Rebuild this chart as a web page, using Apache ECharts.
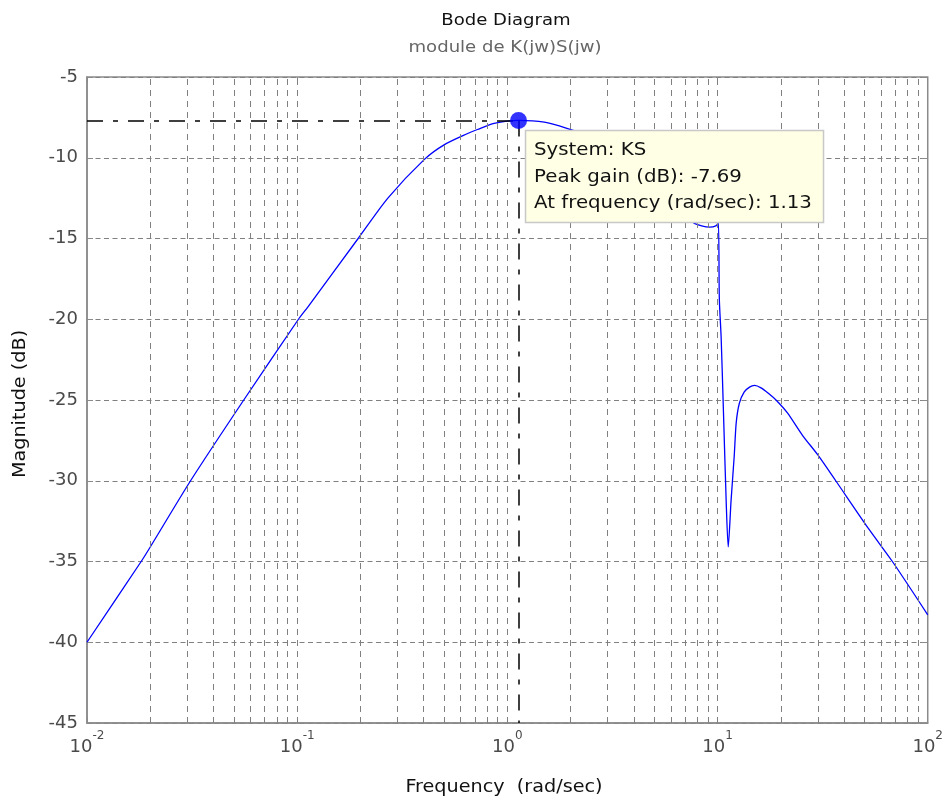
<!DOCTYPE html>
<html><head><meta charset="utf-8">
<script src="https://cdn.jsdelivr.net/npm/echarts@6/dist/echarts.min.js"></script>
<style>html,body{margin:0;padding:0;background:#fff;overflow:hidden}#c{width:946px;height:801px}</style>
</head><body><div id="c"></div>
<script>
// ---- data ----
const freq = [0.01, 0.0181, 0.02, 0.0311, 0.0557, 0.1014, 0.113, 0.195, 0.27, 0.403, 0.5, 0.647, 0.72, 0.865, 1.13, 1.5, 1.92,
  2.5, 3, 4, 5, 6, 7, 7.76, 9.14, 9.87, 10.09, 10.2, 10.4, 10.65, 11.0, 11.24, 11.6, 12.0, 12.27, 12.7, 13.4, 14.2, 15.0,
  16.1, 17.5, 18.97, 21.5, 25.4, 30, 36.5, 52.5, 67.9, 100];
const magDb = [-40, -35, -34.1, -30, -25, -20, -19.2, -15, -12.5, -10.1, -9.2, -8.5, -8.25, -7.87, -7.69, -7.8, -8.18,
  -8.7, -9.2, -10.3, -11.4, -12.5, -13.5, -14.06, -14.3, -14.2, -14.0, -18.8, -21.1, -25.4, -31.4, -34.1, -31.2, -28.5, -26.4, -25.2, -24.5, -24.2, -24.1,
  -24.25, -24.6, -25, -25.8, -27.2, -28.4, -30, -33, -35, -38.3];
const gridFreqs = [0.02,0.03,0.04,0.05,0.06,0.07,0.08,0.09,0.1,0.2,0.3,0.4,0.5,0.6,0.7,0.8,0.9,1,
  2,3,4,5,6,7,8,9,10,20,30,40,50,60,70,80,90];
const xMin = 0.01, xMax = 100;
const yMin = -45, yMax = -5, yStep = 5;
const peakFreq = 1.13, peakGain = -7.69;
const titleText = 'Bode Diagram';
const subtitleText = 'module de K(jw)S(jw)';
const xName = 'Frequency  (rad/sec)';
const yName = 'Magnitude (dB)';
const tipLines = ['System: KS', 'Peak gain (dB): -7.69', 'At frequency (rad/sec): 1.13'];

const FONT = 'DejaVu Sans';
const chart = echarts.init(document.getElementById('c'));
const axisGray = '#8a8a8a';
const labelGray = '#4a4a4a';

const option = {
  animation: false,
  grid: { left: 87, right: 14, top: 77, bottom: 78, show: true, borderColor: axisGray, borderWidth: 1.5, containLabel: false },
  xAxis: [{
    type: 'log', logBase: 10, min: xMin, max: xMax,
    axisLine: { show: true, lineStyle: { color: axisGray, width: 1.5 } },
    axisTick: { show: true, inside: true, length: 6, lineStyle: { color: axisGray } },
    splitLine: { show: false },
    axisLabel: {
      margin: 7, color: labelGray, fontFamily: FONT, showMinLabel: true, showMaxLabel: true,
      formatter: v => '{b|10}{s|' + Math.round(Math.log10(v)) + '}',
      rich: {
        b: { fontSize: 18, fontFamily: FONT, color: labelGray, verticalAlign: 'bottom', lineHeight: 26 },
        s: { fontSize: 12, fontFamily: FONT, color: labelGray, verticalAlign: 'top', lineHeight: 14 }
      }
    }
  }, {
    type: 'log', logBase: 10, min: xMin, max: xMax, position: 'top',
    axisLine: { show: false }, axisLabel: { show: false }, splitLine: { show: false },
    axisTick: { show: true, inside: true, length: 6, lineStyle: { color: axisGray } }
  }],
  yAxis: [{
    type: 'value', min: yMin, max: yMax, interval: yStep,
    axisLine: { show: true, lineStyle: { color: axisGray, width: 1.5 } },
    axisTick: { show: true, inside: true, length: 6, lineStyle: { color: axisGray } },
    splitLine: { show: true, lineStyle: { color: '#808080', type: [5, 3.5], width: 1 } },
    axisLabel: { margin: 9, color: labelGray, fontSize: 18, fontFamily: FONT }
  }, {
    type: 'value', min: yMin, max: yMax, interval: yStep, position: 'right',
    axisLine: { show: false }, axisLabel: { show: false }, splitLine: { show: false },
    axisTick: { show: true, inside: true, length: 6, lineStyle: { color: axisGray } }
  }],
  series: [{
    type: 'line', data: [], silent: true, z: 1,
    markLine: {
      silent: true, symbol: 'none', label: { show: false }, animation: false,
      lineStyle: { color: '#808080', type: [6, 5], width: 1 },
      data: gridFreqs.map(f => ({ xAxis: f }))
    }
  }, {
    type: 'line', data: freq.map((f, i) => [f, magDb[i]]), showSymbol: false, silent: true, z: 4,
    smooth: 0.25,
    lineStyle: { color: '#0000ff', width: 1.3 },
    markLine: {
      silent: true, symbol: 'none', label: { show: false }, animation: false,
      lineStyle: { color: '#000', type: [16, 10, 5, 10], width: 1.5 },
      data: [
        [{ coord: [xMin, peakGain] }, { coord: [peakFreq, peakGain] }],
        [{ coord: [peakFreq, peakGain] }, { coord: [peakFreq, yMin] }]
      ]
    }
  }, {
    type: 'scatter', data: [[peakFreq, peakGain]], symbol: 'circle', symbolSize: 17, z: 6, silent: true,
    itemStyle: { color: '#0000ff' }
  }]
};
chart.setOption(option);

const p = chart.convertToPixel({ seriesIndex: 2 }, [peakFreq, peakGain]);
const SX = 1.13;
const graphic = [
  { type: 'text', x: 506, y: 21, scaleX: SX, z: 50,
    style: { text: titleText, fontSize: 16, fontFamily: FONT, fill: '#111', align: 'center', verticalAlign: 'middle' } },
  { type: 'text', x: 505, y: 48, scaleX: SX, z: 50,
    style: { text: subtitleText, fontSize: 16, fontFamily: FONT, fill: '#666', align: 'center', verticalAlign: 'middle' } },
  { type: 'text', x: 504, y: 788, scaleX: SX, z: 50,
    style: { text: xName, fontSize: 17, fontFamily: FONT, fill: '#111', align: 'center', verticalAlign: 'middle' } },
  { type: 'text', x: 21, y: 404, scaleX: SX, rotation: Math.PI / 2, z: 50,
    style: { text: yName, fontSize: 17, fontFamily: FONT, fill: '#111', align: 'center', verticalAlign: 'middle' } },
  { type: 'rect', z: 100, shape: { x: p[0] + 7, y: p[1] + 10, width: 298, height: 92 },
    style: { fill: '#FFFFE6', stroke: '#C8C8C8', lineWidth: 1.5 } }
];
tipLines.forEach((t, i) => {
  graphic.push({ type: 'text', z: 101, x: p[0] + 15.5, y: p[1] + 30 + i * 26.7, scaleX: SX,
    style: { text: t, fontSize: 17.5, fontFamily: FONT, fill: '#111', align: 'left', verticalAlign: 'middle' } });
});
chart.setOption({ graphic: graphic });
</script>
</body></html>
